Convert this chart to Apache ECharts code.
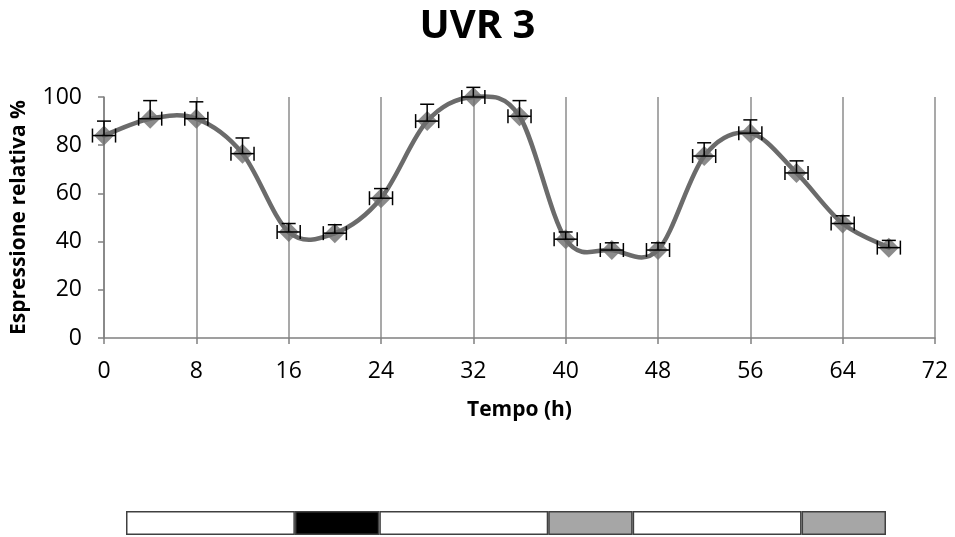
<!DOCTYPE html>
<html>
<head>
<meta charset="utf-8">
<script src="https://cdn.jsdelivr.net/npm/echarts@6/dist/echarts.min.js"></script>
<style>html,body{margin:0;padding:0;background:#fff}#c{width:955px;height:537px}</style>
</head>
<body>
<div id="c"></div>
<script>
const hours = [0, 4, 8, 12, 16, 20, 24, 28, 32, 36, 40, 44, 48, 52, 56, 60, 64, 68];
const expression = [84, 91, 91, 76.5, 44, 43.5, 58, 90, 100, 92, 41, 36.5, 36.5, 75.5, 85, 68.5, 47.5, 37.5];
const errorUp = [6, 7.5, 7, 6.5, 3.5, 3.5, 4, 7, 4, 6.5, 3, 3, 3, 5.5, 5.5, 5, 3.2, 3];
const errorTime = 1;
const lightSegments = [16, 8, 16, 8, 16, 8];
const lightColors = ['#ffffff', '#000000', '#ffffff', '#a6a6a6', '#ffffff', '#a6a6a6'];

const font = '"Open Sans", "Liberation Sans", sans-serif';
const chart = echarts.init(document.getElementById('c'), null, {renderer: 'canvas'});

const lineData = hours.map((h, i) => [h, expression[i]]);
const errData = hours.map((h, i) => [h, expression[i], errorUp[i]]);
const n = hours.length;

const barSeries = lightSegments.map((w, i) => ({
  type: 'bar', xAxisIndex: 1, yAxisIndex: 1, stack: 'light',
  data: [w], barWidth: '100%', silent: true,
  itemStyle: {color: lightColors[i], borderColor: '#404040', borderWidth: 1.5}
}));

chart.setOption({
  animation: false,
  title: {
    text: 'UVR 3', left: 'center', top: 2,
    textStyle: {fontFamily: font, fontWeight: 'bold', fontSize: 40, color: '#000'}
  },
  grid: [
    {left: 104, right: 20, top: 97, bottom: 199},
    {left: 126, width: 760, top: 511, height: 24}
  ],
  xAxis: [{
    type: 'value', min: 0, max: 72, interval: 8, gridIndex: 0,
    name: 'Tempo (h)', nameLocation: 'middle', nameGap: 62,
    nameTextStyle: {fontFamily: font, fontWeight: 'bold', fontSize: 21, color: '#000'},
    axisLine: {show: true, onZero: false, lineStyle: {color: '#808080', width: 1.5}},
    axisTick: {show: true, length: 6, lineStyle: {color: '#808080', width: 1.5}},
    axisLabel: {fontFamily: font, fontSize: 23, color: '#000', margin: 22},
    splitLine: {show: true, lineStyle: {color: '#8c8c8c', width: 1.5}}
  }, {
    type: 'value', min: 0, max: 72, gridIndex: 1, show: false
  }],
  yAxis: [{
    type: 'value', min: 0, max: 100, interval: 20, gridIndex: 0,
    name: 'Espressione relativa %', nameLocation: 'middle', nameGap: 74, nameRotate: 90,
    nameTextStyle: {fontFamily: font, fontWeight: 'bold', fontSize: 21, color: '#000'},
    axisLine: {show: true, lineStyle: {color: '#808080', width: 1.5}},
    axisTick: {show: true, length: 6, lineStyle: {color: '#808080', width: 1.5}},
    axisLabel: {fontFamily: font, fontSize: 23, color: '#000', margin: 22},
    splitLine: {show: false}
  }, {
    type: 'category', data: ['a'], gridIndex: 1, show: false
  }],
  series: [{
    type: 'custom', data: lineData, z: 2, clip: false,
    renderItem: function (params, api) {
      const i = params.dataIndex;
      if (i >= n - 1) return null;
      const p = k => {
        const j = Math.max(0, Math.min(n - 1, k));
        return api.coord([hours[j], expression[j]]);
      };
      const p0 = p(i - 1), p1 = p(i), p2 = p(i + 1), p3 = p(i + 2);
      const f = 1 / 6;
      return {
        type: 'bezierCurve',
        shape: {
          x1: p1[0], y1: p1[1], x2: p2[0], y2: p2[1],
          cpx1: p1[0] + (p2[0] - p0[0]) * f, cpy1: p1[1] + (p2[1] - p0[1]) * f,
          cpx2: p2[0] - (p3[0] - p1[0]) * f, cpy2: p2[1] - (p3[1] - p1[1]) * f
        },
        style: {stroke: '#6b6b6b', lineWidth: 4.5, fill: null, lineCap: 'round'}
      };
    }
  }, {
    type: 'scatter', data: lineData, z: 3,
    symbol: 'diamond', symbolSize: 20,
    itemStyle: {color: '#6e6e6e'}
  }, {
    type: 'custom', data: errData, z: 5, clip: false,
    renderItem: function (params, api) {
      const t = api.value(0), v = api.value(1), e = api.value(2);
      const c = api.coord([t, v]);
      const top = api.coord([t, v + e]);
      const l = api.coord([t - errorTime, v]);
      const r = api.coord([t + errorTime, v]);
      const cap = 7;
      const st = {stroke: '#000', lineWidth: 1.5};
      return {type: 'group', children: [
        {type: 'line', shape: {x1: c[0], y1: c[1], x2: top[0], y2: top[1]}, style: st},
        {type: 'line', shape: {x1: top[0] - cap, y1: top[1], x2: top[0] + cap, y2: top[1]}, style: st},
        {type: 'line', shape: {x1: l[0], y1: l[1], x2: r[0], y2: r[1]}, style: st},
        {type: 'line', shape: {x1: l[0], y1: l[1] - cap, x2: l[0], y2: l[1] + cap}, style: st},
        {type: 'line', shape: {x1: r[0], y1: r[1] - cap, x2: r[0], y2: r[1] + cap}, style: st}
      ]};
    }
  }].concat(barSeries)
});
</script>
</body>
</html>
